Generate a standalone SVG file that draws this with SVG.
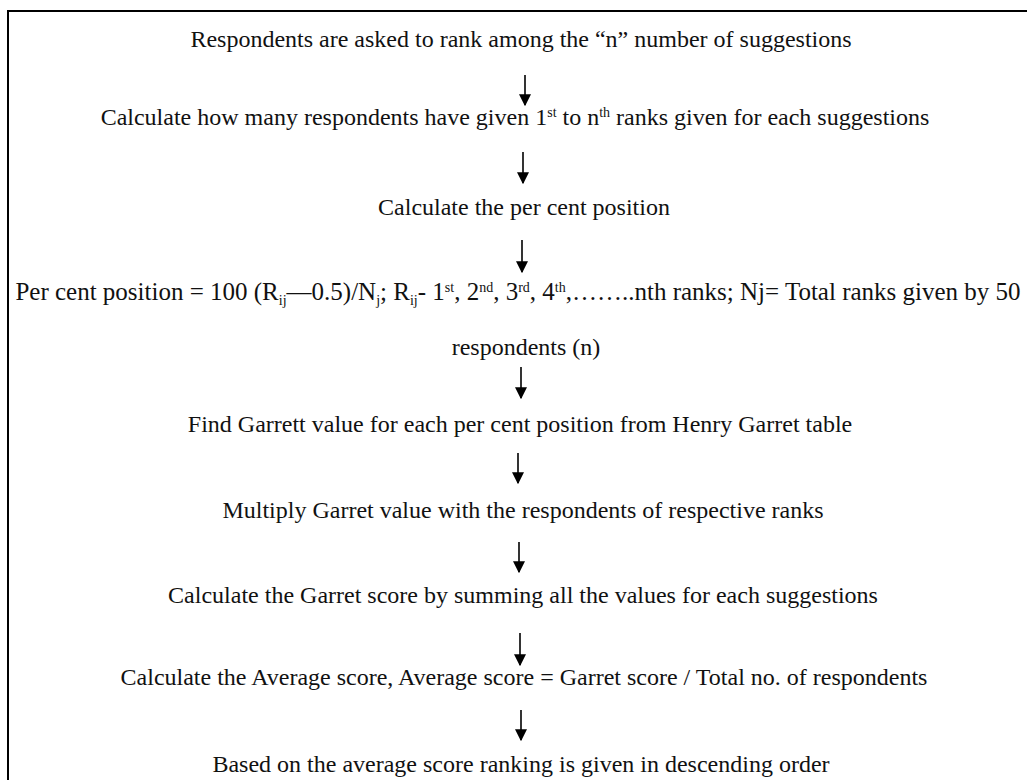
<svg xmlns="http://www.w3.org/2000/svg" width="1027" height="780" viewBox="0 0 1027 780">
<defs>
<style>
.t{font-family:"Liberation Serif","Times New Roman",serif;font-size:24px;fill:#111;text-anchor:middle}
.big{font-size:25px}
.sup{font-size:14px}
.ln{stroke:#000;stroke-width:1.6;fill:none}
.fr{stroke:#000;stroke-width:2;fill:none}
</style>
<marker id="ah" viewBox="0 0 10 10" refX="9" refY="5" markerWidth="12" markerHeight="12" markerUnits="userSpaceOnUse" orient="auto">
<path d="M0,0 L10,5 L0,10 z" fill="#000"/>
</marker>
</defs>
<rect width="1027" height="780" fill="#fff"/>
<path class="fr" d="M8,780 V11 H1027"/>
<g id="n1"><text class="t" x="521" y="47">Respondents are asked to rank among the “n” number of suggestions</text></g>
<g id="n2"><text class="t" x="515" y="125">Calculate how many respondents have given 1<tspan class="sup" dy="-8">st</tspan><tspan dy="8"> to n</tspan><tspan class="sup" dy="-8">th</tspan><tspan dy="8"> ranks given for each suggestions</tspan></text></g>
<g id="n3"><text class="t" x="524" y="215">Calculate the per cent position</text></g>
<g id="n4"><text class="t big" x="518" y="300">Per cent position = 100 (R<tspan class="sup" dy="5">ij</tspan><tspan dy="-5">—0.5)/N</tspan><tspan class="sup" dy="5">j</tspan><tspan dy="-5">; R</tspan><tspan class="sup" dy="5">ij</tspan><tspan dy="-5">- 1</tspan><tspan class="sup" dy="-8">st</tspan><tspan dy="8">, 2</tspan><tspan class="sup" dy="-8">nd</tspan><tspan dy="8">, 3</tspan><tspan class="sup" dy="-8">rd</tspan><tspan dy="8">, 4</tspan><tspan class="sup" dy="-8">th</tspan><tspan dy="8">,……..nth ranks; Nj= Total ranks given by 50</tspan></text>
<text class="t" x="526" y="355">respondents (n)</text></g>
<g id="n5"><text class="t" x="520" y="432">Find Garrett value for each per cent position from Henry Garret table</text></g>
<g id="n6"><text class="t" x="523" y="518">Multiply Garret value with the respondents of respective ranks</text></g>
<g id="n7"><text class="t" x="523" y="603">Calculate the Garret score by summing all the values for each suggestions</text></g>
<g id="n8"><text class="t" x="524" y="685">Calculate the Average score, Average score = Garret score / Total no. of respondents</text></g>
<g id="n9"><text class="t" x="521" y="772">Based on the average score ranking is given in descending order</text></g>
<g id="connectors">
<line class="ln" x1="525" y1="75" x2="525" y2="105" marker-end="url(#ah)"/>
<line class="ln" x1="523" y1="152" x2="523" y2="183" marker-end="url(#ah)"/>
<line class="ln" x1="522" y1="240" x2="522" y2="272" marker-end="url(#ah)"/>
<line class="ln" x1="521" y1="367" x2="521" y2="398" marker-end="url(#ah)"/>
<line class="ln" x1="518" y1="453" x2="518" y2="483" marker-end="url(#ah)"/>
<line class="ln" x1="519" y1="542" x2="519" y2="572" marker-end="url(#ah)"/>
<line class="ln" x1="520" y1="633" x2="520" y2="665" marker-end="url(#ah)"/>
<line class="ln" x1="521" y1="710" x2="521" y2="740" marker-end="url(#ah)"/>
</g>
</svg>
